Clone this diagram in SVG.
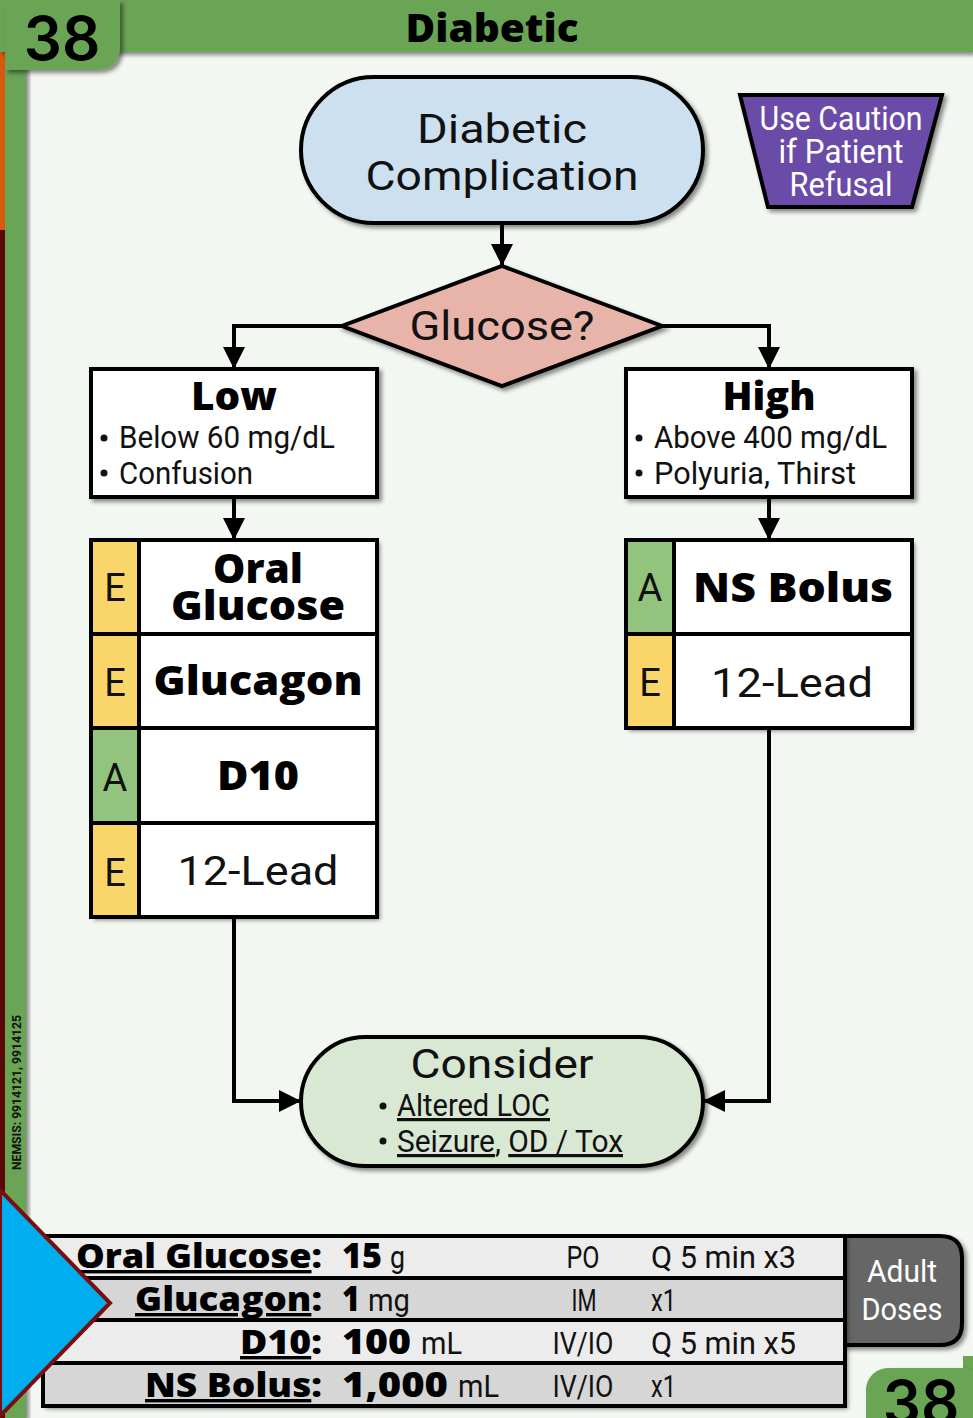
<svg xmlns="http://www.w3.org/2000/svg" width="973" height="1418" viewBox="0 0 973 1418">
<style>
.bx{stroke:#000;stroke-width:4}
.cn{fill:none;stroke:#000;stroke-width:4}
.rg{font-family:Roboto,"Liberation Sans",sans-serif;fill:#111}
.bd{font-family:"Open Sans","Noto Sans","Liberation Sans",sans-serif;font-weight:800;fill:#000}
.cd{font-family:Roboto,"Liberation Sans",sans-serif;fill:#111}
</style>
<defs>
<filter id="sh" x="-10%" y="-10%" width="130%" height="130%">
<feDropShadow dx="3" dy="3" stdDeviation="2" flood-color="#000" flood-opacity="0.45"/>
</filter>
<marker id="ar" markerUnits="userSpaceOnUse" markerWidth="24" markerHeight="24" refX="22" refY="11" orient="auto">
<path d="M0,0 L22,11 L0,22 Z" fill="#000"/>
</marker>
</defs>

<!-- page -->
<rect x="0" y="0" width="973" height="1418" fill="#f3f7f1"/>
<rect x="0" y="0" width="6" height="1418" fill="#5a0808"/>
<rect x="0" y="0" width="6" height="230" fill="#d9590f"/>
<rect x="5" y="0" width="21" height="1418" fill="#6aa454" filter="url(#sh)"/>
<rect x="0" y="0" width="973" height="52" fill="#6aa454" filter="url(#sh)"/>
<path d="M5,0 H120 V46 Q120,70 96,70 H5 Z" fill="#6aa454" filter="url(#sh)"/>
<text x="62" y="60" font-size="60" text-anchor="middle" style="font-family:Inter,'Open Sans',sans-serif;font-weight:600;fill:#000">38</text>
<text x="492" y="42" class="bd" font-size="38" text-anchor="middle" textLength="173" lengthAdjust="spacingAndGlyphs">Diabetic</text>
<text transform="translate(21,1170) rotate(-90)" class="cd" font-size="12.5" font-weight="700" textLength="155" lengthAdjust="spacingAndGlyphs">NEMSIS: 9914121, 9914125</text>

<!-- connectors -->
<g id="connectors">
<path class="cn" d="M502,223 V266" marker-end="url(#ar)"/>
<path class="cn" d="M342,326 H234 V369" marker-end="url(#ar)"/>
<path class="cn" d="M662,326 H769 V369" marker-end="url(#ar)"/>
<path class="cn" d="M234,497 V540" marker-end="url(#ar)"/>
<path class="cn" d="M769,497 V540" marker-end="url(#ar)"/>
<path class="cn" d="M234,917 V1101 H301" marker-end="url(#ar)"/>
<path class="cn" d="M769,728 V1101 H703" marker-end="url(#ar)"/>
</g>

<g id="start">
<rect class="bx" x="301" y="77" width="402" height="146" rx="73" fill="#cde0f0" filter="url(#sh)"/>
<text x="502" y="143" class="rg" font-size="41" text-anchor="middle" textLength="170" lengthAdjust="spacingAndGlyphs">Diabetic</text>
<text x="502" y="190" class="rg" font-size="41" text-anchor="middle" textLength="273" lengthAdjust="spacingAndGlyphs">Complication</text>
</g>

<g id="caution">
<path class="bx" d="M740,95 H942 L912,207 H768 Z" fill="#6a4ba8" filter="url(#sh)"/>
<text x="841" y="130" class="cd" font-size="33" text-anchor="middle" textLength="163" lengthAdjust="spacingAndGlyphs" style="fill:#fff">Use Caution</text>
<text x="841" y="163" class="cd" font-size="33" text-anchor="middle" textLength="125" lengthAdjust="spacingAndGlyphs" style="fill:#fff">if Patient</text>
<text x="841" y="196" class="cd" font-size="33" text-anchor="middle" textLength="103" lengthAdjust="spacingAndGlyphs" style="fill:#fff">Refusal</text>
</g>

<g id="decision">
<path class="bx" d="M502,266 L662,326 L502,386 L342,326 Z" fill="#e8b3a8" filter="url(#sh)"/>
<text x="502" y="340" class="rg" font-size="40" text-anchor="middle" textLength="185" lengthAdjust="spacingAndGlyphs">Glucose?</text>
</g>

<g id="low">
<rect class="bx" x="91" y="369" width="286" height="128" fill="#fff" filter="url(#sh)"/>
<text x="234" y="410" class="bd" font-size="38" text-anchor="middle" textLength="86" lengthAdjust="spacingAndGlyphs">Low</text>
<circle cx="104" cy="438" r="3.5" fill="#111"/>
<text x="119" y="448" class="cd" font-size="32" textLength="216" lengthAdjust="spacingAndGlyphs">Below 60 mg/dL</text>
<circle cx="104" cy="473" r="3.5" fill="#111"/>
<text x="119" y="484" class="cd" font-size="32" textLength="134" lengthAdjust="spacingAndGlyphs">Confusion</text>
</g>

<g id="high">
<rect class="bx" x="626" y="369" width="286" height="128" fill="#fff" filter="url(#sh)"/>
<text x="769" y="410" class="bd" font-size="38" text-anchor="middle" textLength="93" lengthAdjust="spacingAndGlyphs">High</text>
<circle cx="639" cy="438" r="3.5" fill="#111"/>
<text x="654" y="448" class="cd" font-size="32" textLength="233" lengthAdjust="spacingAndGlyphs">Above 400 mg/dL</text>
<circle cx="639" cy="473" r="3.5" fill="#111"/>
<text x="654" y="484" class="cd" font-size="32" textLength="202" lengthAdjust="spacingAndGlyphs">Polyuria, Thirst</text>
</g>

<g id="low-treatment">
<rect x="91" y="540" width="286" height="377" fill="#fff" filter="url(#sh)"/>
<rect x="91" y="540" width="48" height="188" fill="#f9d56a"/>
<rect x="91" y="728" width="48" height="95" fill="#93c47d"/>
<rect x="91" y="823" width="48" height="94" fill="#f9d56a"/>
<rect class="bx" x="91" y="540" width="286" height="377" fill="none"/>
<path class="bx" d="M139,540 V917 M91,634 H377 M91,728 H377 M91,823 H377" fill="none"/>
<text x="115" y="601" class="rg" font-size="38" text-anchor="middle">E</text>
<text x="115" y="696" class="rg" font-size="38" text-anchor="middle">E</text>
<text x="115" y="791" class="rg" font-size="38" text-anchor="middle">A</text>
<text x="115" y="886" class="rg" font-size="38" text-anchor="middle">E</text>
<text x="258" y="583" class="bd" font-size="40" text-anchor="middle" textLength="90" lengthAdjust="spacingAndGlyphs">Oral</text>
<text x="258" y="620" class="bd" font-size="40" text-anchor="middle" textLength="174" lengthAdjust="spacingAndGlyphs">Glucose</text>
<text x="258" y="695" class="bd" font-size="40" text-anchor="middle" textLength="209" lengthAdjust="spacingAndGlyphs">Glucagon</text>
<text x="258" y="790" class="bd" font-size="40" text-anchor="middle" textLength="82" lengthAdjust="spacingAndGlyphs">D10</text>
<text x="258" y="885" class="rg" font-size="40" text-anchor="middle" textLength="161" lengthAdjust="spacingAndGlyphs">12-Lead</text>
</g>

<g id="high-treatment">
<rect x="626" y="540" width="286" height="188" fill="#fff" filter="url(#sh)"/>
<rect x="626" y="540" width="48" height="94" fill="#93c47d"/>
<rect x="626" y="634" width="48" height="94" fill="#f9d56a"/>
<rect class="bx" x="626" y="540" width="286" height="188" fill="none"/>
<path class="bx" d="M674,540 V728 M626,634 H912" fill="none"/>
<text x="650" y="601" class="rg" font-size="38" text-anchor="middle">A</text>
<text x="650" y="696" class="rg" font-size="38" text-anchor="middle">E</text>
<text x="793" y="602" class="bd" font-size="40" text-anchor="middle" textLength="200" lengthAdjust="spacingAndGlyphs">NS Bolus</text>
<text x="792" y="697" class="rg" font-size="40" text-anchor="middle" textLength="162" lengthAdjust="spacingAndGlyphs">12-Lead</text>
</g>

<g id="consider">
<rect class="bx" x="301" y="1037" width="402" height="129" rx="64.5" fill="#d9e8d3" filter="url(#sh)"/>
<text x="502" y="1078" class="rg" font-size="40" text-anchor="middle" textLength="183" lengthAdjust="spacingAndGlyphs">Consider</text>
<circle cx="383" cy="1106" r="3.5" fill="#111"/>
<text x="397" y="1116" class="cd" font-size="32" textLength="153" lengthAdjust="spacingAndGlyphs" text-decoration="underline">Altered LOC</text>
<circle cx="383" cy="1141" r="3.5" fill="#111"/>
<text x="397" y="1152" class="cd" font-size="32" textLength="226" lengthAdjust="spacingAndGlyphs"><tspan text-decoration="underline">Seizure</tspan>, <tspan text-decoration="underline">OD / Tox</tspan></text>
</g>

<g id="doses">
<path class="bx" d="M845,1236 H940 Q962,1236 962,1258 V1323 Q962,1345 940,1345 H845 Z" fill="#666" filter="url(#sh)"/>
<text x="902" y="1282" class="cd" font-size="32" text-anchor="middle" textLength="70" lengthAdjust="spacingAndGlyphs" style="fill:#fff">Adult</text>
<text x="902" y="1320" class="cd" font-size="32" text-anchor="middle" textLength="81" lengthAdjust="spacingAndGlyphs" style="fill:#fff">Doses</text>
<rect x="43" y="1236" width="802" height="170" fill="#ececec" filter="url(#sh)"/>
<rect x="43" y="1278" width="802" height="42" fill="#d6d6d6"/>
<rect x="43" y="1363" width="802" height="43" fill="#d6d6d6"/>
<rect class="bx" x="43" y="1236" width="802" height="170" fill="none"/>
<path class="bx" d="M43,1278 H845 M43,1320 H845 M43,1363 H845" fill="none"/>
<text x="322" y="1268" class="bd" font-size="34" text-anchor="end" textLength="246" lengthAdjust="spacingAndGlyphs"><tspan text-decoration="underline">Oral Glucose</tspan>:</text>
<text x="322" y="1311" class="bd" font-size="34" text-anchor="end" textLength="187" lengthAdjust="spacingAndGlyphs"><tspan text-decoration="underline">Glucagon</tspan>:</text>
<text x="322" y="1354" class="bd" font-size="34" text-anchor="end" textLength="82" lengthAdjust="spacingAndGlyphs"><tspan text-decoration="underline">D10</tspan>:</text>
<text x="322" y="1397" class="bd" font-size="34" text-anchor="end" textLength="177" lengthAdjust="spacingAndGlyphs"><tspan text-decoration="underline">NS Bolus</tspan>:</text>
<text x="342" y="1268" class="bd" font-size="35" textLength="40" lengthAdjust="spacingAndGlyphs">15</text>
<text x="390" y="1268" class="cd" font-size="31" textLength="15" lengthAdjust="spacingAndGlyphs">g</text>
<text x="342" y="1311" class="bd" font-size="35" textLength="18" lengthAdjust="spacingAndGlyphs">1</text>
<text x="368" y="1311" class="cd" font-size="31" textLength="42" lengthAdjust="spacingAndGlyphs">mg</text>
<text x="342" y="1354" class="bd" font-size="35" textLength="69" lengthAdjust="spacingAndGlyphs">100</text>
<text x="421" y="1354" class="cd" font-size="31" textLength="41" lengthAdjust="spacingAndGlyphs">mL</text>
<text x="342" y="1397" class="bd" font-size="35" textLength="106" lengthAdjust="spacingAndGlyphs">1,000</text>
<text x="458" y="1397" class="cd" font-size="31" textLength="41" lengthAdjust="spacingAndGlyphs">mL</text>
<text x="583" y="1268" class="cd" font-size="31" text-anchor="middle" textLength="33" lengthAdjust="spacingAndGlyphs">PO</text>
<text x="584" y="1311" class="cd" font-size="31" text-anchor="middle" textLength="25" lengthAdjust="spacingAndGlyphs">IM</text>
<text x="583" y="1354" class="cd" font-size="31" text-anchor="middle" textLength="61" lengthAdjust="spacingAndGlyphs">IV/IO</text>
<text x="583" y="1397" class="cd" font-size="31" text-anchor="middle" textLength="61" lengthAdjust="spacingAndGlyphs">IV/IO</text>
<text x="651" y="1268" class="cd" font-size="31" textLength="145" lengthAdjust="spacingAndGlyphs">Q 5 min x3</text>
<text x="651" y="1311" class="cd" font-size="31" textLength="25" lengthAdjust="spacingAndGlyphs">x1</text>
<text x="651" y="1354" class="cd" font-size="31" textLength="145" lengthAdjust="spacingAndGlyphs">Q 5 min x5</text>
<text x="651" y="1397" class="cd" font-size="31" textLength="25" lengthAdjust="spacingAndGlyphs">x1</text>
</g>

<polygon points="0,1190 110,1303 0,1416" fill="#00aeef" stroke="#7a0d0d" stroke-width="4"/>

<rect x="963" y="1356" width="10" height="20" fill="#6aa454"/>
<rect x="866" y="1368" width="120" height="80" rx="22" fill="#6aa454" filter="url(#sh)"/>
<text x="921" y="1424" font-size="60" text-anchor="middle" style="font-family:Inter,'Open Sans',sans-serif;font-weight:600;fill:#000">38</text>
</svg>
